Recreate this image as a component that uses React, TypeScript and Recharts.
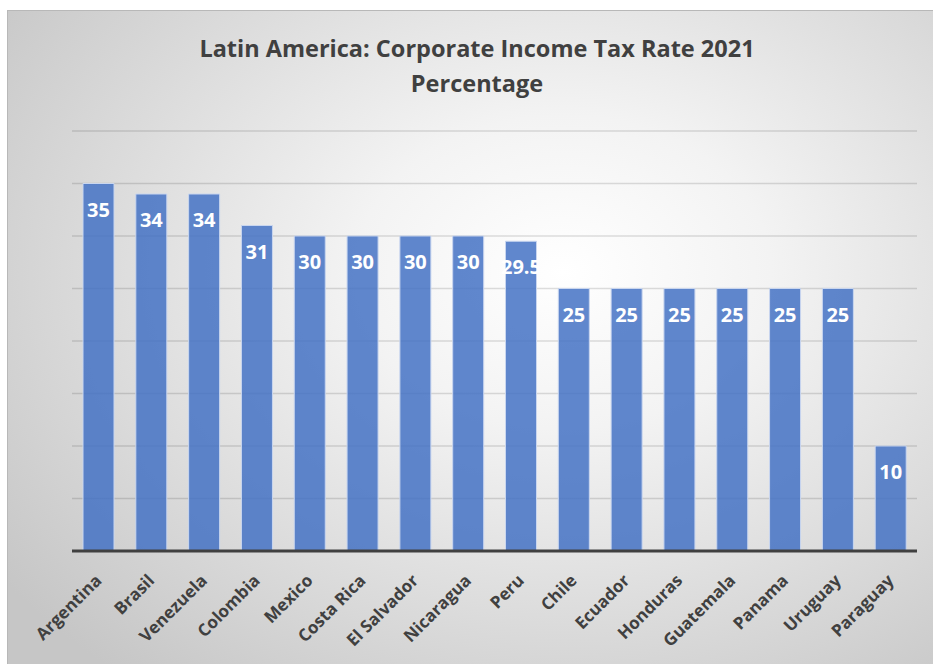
import { Bar, BarChart, CartesianGrid, LabelList, XAxis, YAxis } from 'recharts';

const countries = [
  'Argentina', 'Brasil', 'Venezuela', 'Colombia', 'Mexico', 'Costa Rica', 'El Salvador', 'Nicaragua',
  'Peru', 'Chile', 'Ecuador', 'Honduras', 'Guatemala', 'Panama', 'Uruguay', 'Paraguay',
];
const taxRates = [35, 34, 34, 31, 30, 30, 30, 30, 29.5, 25, 25, 25, 25, 25, 25, 10];
const yTicks = [0, 5, 10, 15, 20, 25, 30, 35, 40];

const data = countries.map((country, i) => ({ country, rate: taxRates[i] }));

const FONT = '"Open Sans", "DejaVu Sans", sans-serif';

function CountryTick({ x, y, payload }: any) {
  return (
    <g transform={`translate(${x},${y})`}>
      <text
        x={0}
        y={0}
        dx={-13}
        dy={19}
        transform="rotate(-45)"
        textAnchor="end"
        fill="#404040"
        fontFamily={FONT}
        fontWeight={700}
        fontSize={17}
      >
        {payload.value}
      </text>
    </g>
  );
}

export default function App() {
  return (
    <div
      style={{
        position: 'absolute',
        left: 7,
        top: 10,
        width: 926,
        height: 654,
        borderTop: '1px solid #b8b8b8',
        borderLeft: '1px solid #b8b8b8',
        boxSizing: 'border-box',
        background: 'radial-gradient(ellipse 75% 80% at 60% 40%, #ffffff 0%, #f3f3f3 30%, #c6c6c6 100%)',
        overflow: 'hidden',
      }}
    >
      <div
        style={{
          position: 'absolute',
          left: 6,
          width: 926,
          top: 20,
          textAlign: 'center',
          fontFamily: FONT,
          fontWeight: 700,
          fontSize: 23.5,
          lineHeight: '35px',
          color: '#404040',
        }}
      >
        <div>Latin America: Corporate Income Tax Rate 2021</div>
        <div>Percentage</div>
      </div>
      <div style={{ position: 'absolute', left: -1, top: -1 }}>
        <BarChart
          width={926}
          height={654}
          data={data}
          margin={{ top: 121, right: 16, left: 65, bottom: 0 }}
          barSize={31}
        >
          <CartesianGrid vertical={false} stroke="#000" strokeOpacity={0.13} strokeWidth={1.5} />
          <YAxis hide domain={[0, 40]} ticks={yTicks} />
          <XAxis
            dataKey="country"
            height={113}
            interval={0}
            tickLine={false}
            axisLine={{ stroke: '#404040', strokeWidth: 3 }}
            tick={<CountryTick />}
          />
          <Bar
            dataKey="rate"
            fill="#4472C4"
            fillOpacity={0.85}
            stroke="#c9d6ef"
            strokeWidth={1}
            isAnimationActive={false}
          >
            <LabelList
              dataKey="rate"
              position="insideTop"
              offset={19}
              fill="#ffffff"
              fontFamily={FONT}
              fontWeight={700}
              fontSize={20}
            />
          </Bar>
        </BarChart>
      </div>
    </div>
  );
}
